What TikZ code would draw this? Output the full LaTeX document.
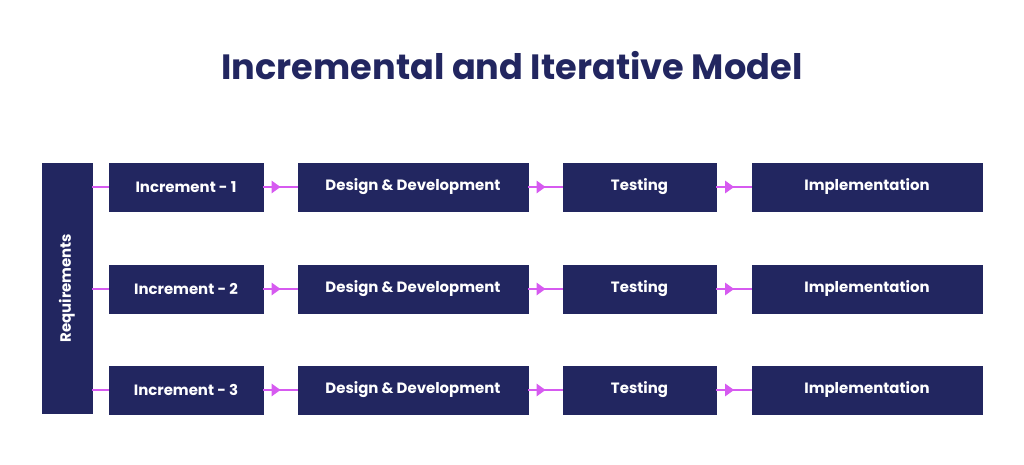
\documentclass[tikz,border=0pt]{standalone}
\usepackage{fontspec}
\setmainfont{Poppins}
\usetikzlibrary{positioning, arrows.meta, decorations.markings}
\definecolor{navy}{HTML}{222660}
\definecolor{pinkline}{HTML}{D65AF0}

\begin{document}
\begin{tikzpicture}[
            x=0.02cm, y=-0.02cm,
            stage/.style={draw=navy, fill=navy, text=white, minimum height=0.96cm, inner sep=0pt, font=\fontsize{8.5}{10}\selectfont\bfseries},
            link/.style={pinkline, line width=0.8pt, postaction={decorate},
                decoration={markings, mark=at position 0.5 with {\arrow{Triangle[length=5pt, width=7pt]}}}},
            feed/.style={pinkline, line width=0.8pt}
        ]
        \useasboundingbox (0,0) rectangle (1024,465);

        % Title
        \node[text=navy, font=\fontsize{20}{24}\selectfont\bfseries] (title) at (512,66) {Incremental and Iterative Model};

        % Requirements column
        \node[stage, minimum width=5cm, minimum height=1cm, rotate=90] (req) at (67,288) {Requirements};

        % Rows
        \foreach \i/\y in {1/187, 2/289, 3/390} {
            \node[stage, minimum width=3.08cm] (inc\i) at (186,\y) {Increment - \i};
            \node[stage, minimum width=4.6cm] (dev\i) at (413,\y) {Design \& Development};
            \node[stage, minimum width=3.06cm] (test\i) at (639.5,\y) {Testing};
            \node[stage, minimum width=4.6cm] (impl\i) at (867,\y) {Implementation};

            \draw[feed] (inc\i.west -| req.south) -- (inc\i.west);
            \draw[link] (inc\i.east) -- (dev\i.west);
            \draw[link] (dev\i.east) -- (test\i.west);
            \draw[link] (test\i.east) -- (impl\i.west);
        }
\end{tikzpicture}
\end{document}
